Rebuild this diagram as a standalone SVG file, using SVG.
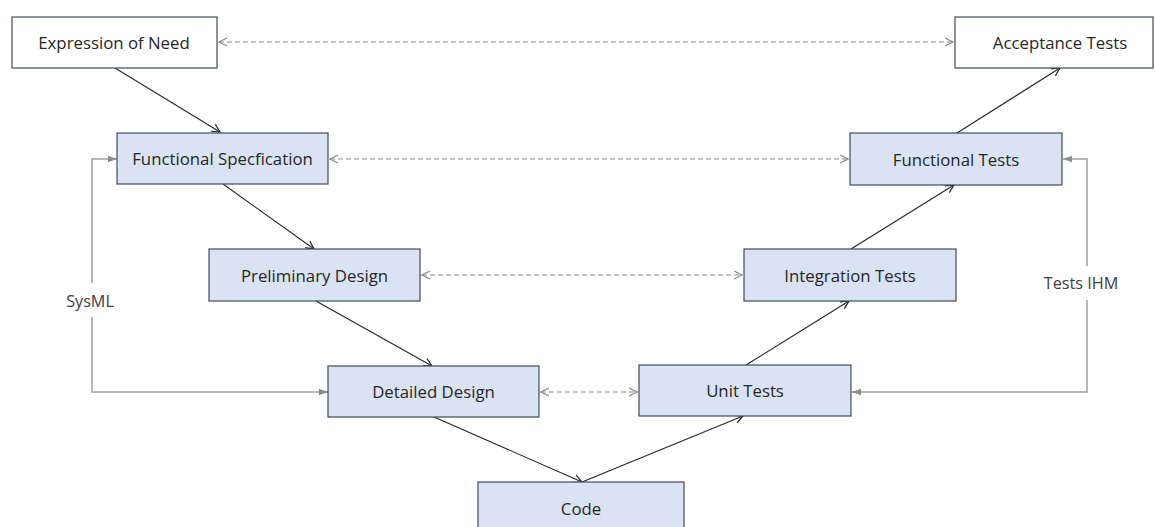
<svg xmlns="http://www.w3.org/2000/svg" width="1155" height="527" viewBox="0 0 1155 527">
  <defs>
    <style>
      .box { stroke: #3f4b5b; stroke-width: 1.2; }
      .plain { fill: #ffffff; }
      .blue { fill: #dae3f3; }
      .lbl { font-family: "Open Sans", "Liberation Sans", sans-serif; font-size: 16.8px; fill: #262626; text-anchor: middle; dominant-baseline: central; }
      .side { font-family: "Open Sans", "Liberation Sans", sans-serif; font-size: 16.2px; fill: #404040; text-anchor: middle; dominant-baseline: central; }
      .flow { stroke: #262626; stroke-width: 1.1; fill: none; marker-end: url(#vee); }
      .trace { stroke: #8c8c8c; stroke-width: 1.1; fill: none; stroke-dasharray: 5 3; marker-start: url(#veeGrayStart); marker-end: url(#veeGray); }
      .tool { stroke: #a0a0a0; stroke-width: 1.5; fill: none; marker-end: url(#tri); }
    </style>
    <marker id="vee" viewBox="0 0 10 10" refX="9" refY="5" markerWidth="10" markerHeight="10" markerUnits="userSpaceOnUse" orient="auto">
      <path d="M1,1 L9,5 L1,9" fill="none" stroke="#262626" stroke-width="1.2"/>
    </marker>
    <marker id="veeGray" viewBox="0 0 10 10" refX="9" refY="5" markerWidth="10" markerHeight="10" markerUnits="userSpaceOnUse" orient="auto">
      <path d="M1,1 L9,5 L1,9" fill="none" stroke="#8c8c8c" stroke-width="1.2"/>
    </marker>
    <marker id="veeGrayStart" viewBox="0 0 10 10" refX="1" refY="5" markerWidth="10" markerHeight="10" markerUnits="userSpaceOnUse" orient="auto">
      <path d="M9,1 L1,5 L9,9" fill="none" stroke="#8c8c8c" stroke-width="1.2"/>
    </marker>
    <marker id="tri" viewBox="0 0 10 10" refX="10" refY="5" markerWidth="9" markerHeight="9" markerUnits="userSpaceOnUse" orient="auto">
      <path d="M0,1.5 L10,5 L0,8.5 Z" fill="#8c8c8c"/>
    </marker>
  </defs>

  <rect width="1155" height="527" fill="#ffffff"/>

  <g id="connectors">
    <!-- descending branch -->
    <line class="flow" x1="115" y1="68" x2="220" y2="132"/>
    <line class="flow" x1="223" y1="184" x2="314" y2="249"/>
    <line class="flow" x1="316" y1="301" x2="432" y2="366"/>
    <line class="flow" x1="434" y1="417" x2="582" y2="482"/>
    <!-- ascending branch -->
    <line class="flow" x1="582" y1="482" x2="743" y2="416"/>
    <line class="flow" x1="746" y1="365" x2="849" y2="301"/>
    <line class="flow" x1="851" y1="249" x2="954" y2="185"/>
    <line class="flow" x1="957" y1="133" x2="1060" y2="68"/>
    <!-- verification links -->
    <line class="trace" x1="219" y1="42" x2="953" y2="42"/>
    <line class="trace" x1="330" y1="159" x2="848" y2="159"/>
    <line class="trace" x1="422" y1="275" x2="742" y2="275"/>
    <line class="trace" x1="541" y1="392" x2="637" y2="392"/>
    <!-- SysML loop -->
    <polyline class="tool" points="92,283 92,159 117,159"/>
    <polyline class="tool" points="92,317 92,392 328,392"/>
    <!-- Tests IHM loop -->
    <polyline class="tool" points="1087,266 1087,159 1063,159"/>
    <polyline class="tool" points="1087,300 1087,392 852,392"/>
  </g>

  <text class="side" x="90" y="301">SysML</text>
  <text class="side" x="1081" y="283">Tests IHM</text>

  <g id="expression-of-need">
    <rect class="box plain" x="12" y="17" width="205" height="51"/>
    <text class="lbl" x="114" y="42.5">Expression of Need</text>
  </g>
  <g id="acceptance-tests">
    <rect class="box plain" x="955" y="17" width="198" height="51"/>
    <text class="lbl" x="1060" y="42.5">Acceptance Tests</text>
  </g>
  <g id="functional-specification">
    <rect class="box blue" x="117" y="133" width="211" height="51"/>
    <text class="lbl" x="222.5" y="158.5">Functional Specfication</text>
  </g>
  <g id="functional-tests">
    <rect class="box blue" x="850" y="133" width="212" height="52"/>
    <text class="lbl" x="956" y="159">Functional Tests</text>
  </g>
  <g id="preliminary-design">
    <rect class="box blue" x="209" y="249" width="211" height="52"/>
    <text class="lbl" x="314.5" y="275">Preliminary Design</text>
  </g>
  <g id="integration-tests">
    <rect class="box blue" x="744" y="249" width="212" height="52"/>
    <text class="lbl" x="850" y="275">Integration Tests</text>
  </g>
  <g id="detailed-design">
    <rect class="box blue" x="328" y="366" width="211" height="51"/>
    <text class="lbl" x="433.5" y="391.5">Detailed Design</text>
  </g>
  <g id="unit-tests">
    <rect class="box blue" x="639" y="365" width="212" height="51"/>
    <text class="lbl" x="745" y="390.5">Unit Tests</text>
  </g>
  <g id="code">
    <rect class="box blue" x="478" y="482" width="206" height="60"/>
    <text class="lbl" x="581" y="508">Code</text>
  </g>
</svg>
